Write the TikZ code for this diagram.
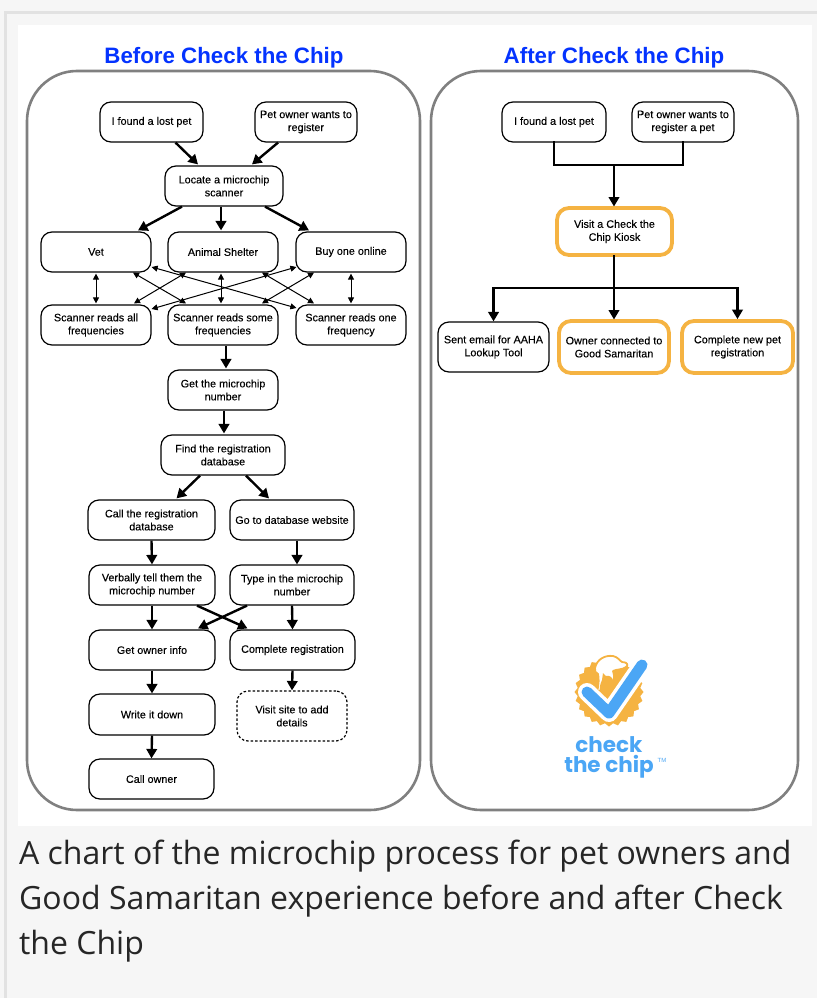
\documentclass[tikz,border=0pt]{standalone}
\usepackage{fontspec}
\setmainfont{Liberation Sans}
\newfontfamily\nodefont[FakeBold=0.12]{Liberation Sans}
\newfontfamily\capfont{Open Sans}
\newfontfamily\logofont{Poppins}
\usetikzlibrary{arrows.meta,calc}
\definecolor{pagebg}{HTML}{F6F6F6}
\definecolor{pageline}{HTML}{E2E2E2}
\definecolor{panelline}{HTML}{808080}
\definecolor{titleblue}{HTML}{0433FF}
\definecolor{kiosk}{HTML}{F5B342}
\definecolor{logoblue}{HTML}{4BA6F5}
\tikzset{
  x=1pt,y=-1pt,
  panel/.style={draw=panelline,line width=2.6pt,rounded corners=50pt,fill=white},
  box/.style={draw=black,line width=1.2pt,rounded corners=11pt,align=center,inner sep=0pt,
    font=\nodefont\fontsize{10.8}{13}\selectfont,text=black},
  hl/.style={box,draw=kiosk,line width=3.8pt,rounded corners=12pt},
  dash box/.style={box,dash pattern=on 2.5pt off 2pt},
  heavy/.style={line width=2.4pt,-{Triangle[length=9.5pt,width=10.5pt]}},
  thin both/.style={line width=1pt,{Triangle[length=6pt,width=6pt]}-{Triangle[length=6pt,width=6pt]}},
  plainheavy/.style={line width=2.4pt},
  headline/.style={font=\fontsize{22.3}{26}\selectfont\bfseries,text=titleblue},
  caption/.style={font=\capfont\fontsize{32}{45}\selectfont,text=black!85,anchor=west},
  logotext/.style={font=\logofont\bfseries\fontsize{21.5}{22}\selectfont,text=logoblue,inner sep=0pt,anchor=base}
}
\newcommand{\bx}[7][box]{\node[#1,minimum width=#5pt-#3pt,minimum height=#6pt-#4pt] (#2) at ({(#3+#5)/2},{(#4+#6)/2}) {#7};}
\begin{document}
\begin{tikzpicture}
\useasboundingbox (0,0) rectangle (817,998);
\fill[pagebg] (0,0) rectangle (817,998);
\fill[pageline] (4,11) rectangle (817,14);
\fill[pageline] (4,11) rectangle (7,998);
\fill[white] (18,25) rectangle (812,826);
\draw[panel] (27,71) rectangle (420,810);
\draw[panel] (431,71) rectangle (798,810);
\node[headline] (t1) at (224,58) {Before Check the Chip};
\node[headline] (t2) at (614,58) {After Check the Chip};
% left nodes
\bx{lfound}{100}{102}{203}{142}{I found a lost pet}
\bx{lowner}{255}{102}{357}{142}{Pet owner wants to\\register}
\bx{locate}{165}{166}{283}{206}{Locate a microchip\\scanner}
\bx{vet}{41}{232}{151}{272}{Vet}
\bx{shelter}{168}{232}{278}{272}{Animal Shelter}
\bx{buy}{296}{232}{406}{272}{Buy one online}
\bx{all}{41}{305}{151}{345}{Scanner reads all\\frequencies}
\bx{some}{168}{305}{278}{345}{Scanner reads some\\frequencies}
\bx{one}{296}{305}{406}{345}{Scanner reads one\\frequency}
\bx{number}{168}{370}{278}{410}{Get the microchip\\number}
\bx{find}{161}{435}{285}{475}{Find the registration\\database}
\bx{calldb}{88}{500}{215}{540}{Call the registration\\database}
\bx{goto}{230}{500}{354}{540}{Go to database website}
\bx{verb}{89}{565}{215}{605}{Verbally tell them the\\microchip number}
\bx{type}{230}{565}{354}{605}{Type in the microchip\\number}
\bx{info}{89}{630}{215}{670}{Get owner info}
\bx{compl}{230}{630}{355}{670}{Complete registration}
\bx{write}{89}{694}{215}{735}{Write it down}
\bx{callo}{89}{759}{214}{799}{Call owner}
\bx[dash box]{visit}{237}{691}{347}{741}{Visit site to add\\details}
% right nodes
\bx{rfound}{502}{102}{606}{142}{I found a lost pet}
\bx{rowner}{632}{102}{734}{142}{Pet owner wants to\\register a pet}
\bx[hl]{chipkiosk}{557}{208}{672}{255}{Visit a Check the\\Chip Kiosk}
\bx{sent}{438}{322}{549}{372}{Sent email for AAHA\\Lookup Tool}
\bx[hl]{conn}{559}{321}{669}{373}{Owner connected to\\Good Samaritan}
\bx[hl]{newreg}{682}{321}{793}{373}{Complete new pet\\registration}
% left connectors
\draw[heavy] ($(lfound.south)+(24,0)$) -- ($(locate.north)+(-26,-1)$);
\draw[heavy] ($(lowner.south)+(-28,0)$) -- ($(locate.north)+(28,-1)$);
\draw[heavy] ($(locate.south)+(-42,0)$) -- ($(vet.north)+(42,-1)$);
\draw[heavy] ($(locate.south)+(-3,0)$) -- ($(shelter.north)+(-2,-1)$);
\draw[heavy] ($(locate.south)+(41,0)$) -- ($(buy.north)+(-42,-1)$);
\draw[thin both] ($(vet.south)+(0,1)$) -- ($(all.north)+(0,-1)$);
\draw[thin both] ($(shelter.south)+(-2,1)$) -- ($(some.north)+(-2,-1)$);
\draw[thin both] ($(buy.south)+(0,1)$) -- ($(one.north)+(0,-1)$);
\draw[thin both] ($(vet.south)+(37,0)$) -- ($(some.north)+(-37,-1)$);
\draw[thin both] ($(shelter.south)+(-37,0)$) -- ($(all.north)+(38,-1)$);
\draw[thin both] ($(vet.east)+(0,15)$) -- ($(one.west)+(1,-17)$);
\draw[thin both] ($(buy.west)+(1,15)$) -- ($(all.east)+(0,-16)$);
\draw[thin both] ($(shelter.south)+(39,0)$) -- ($(one.north)+(-37,-1)$);
\draw[thin both] ($(buy.south)+(-37,0)$) -- ($(some.north)+(39,-1)$);
\draw[heavy] ($(some.south)+(3,0)$) -- ($(number.north)+(3,-1)$);
\draw[heavy] ($(number.south)+(1,0)$) -- ($(find.north)+(1,-1)$);
\draw[heavy] ($(find.south)+(-23,0)$) -- ($(calldb.north)+(25,-1)$);
\draw[heavy] ($(find.south)+(23,0)$) -- ($(goto.north)+(-23,-1)$);
\draw[heavy] (calldb.south) -- (verb.north);
\draw[heavy] ($(goto.south)+(5,0)$) -- ($(type.north)+(5,0)$);
\draw[heavy] (verb.south) -- (info.north);
\draw[heavy] (type.south) -- (compl.north);
\draw[heavy] ($(verb.south)+(45,0)$) -- ($(compl.north)+(-45,-1)$);
\draw[heavy] ($(type.south)+(-45,0)$) -- ($(info.north)+(46,-1)$);
\draw[heavy] (info.south) -- (write.north);
\draw[heavy] (write.south) -- (callo.north);
\draw[heavy] (compl.south) -- (visit.north);
% right connectors
\coordinate (rjoin) at (614,165);
\draw[plainheavy,line cap=rect] (rfound.south) |- (rjoin) -| (rowner.south);
\draw[heavy] (rjoin) -- (614,206.5);
\coordinate (rsplit) at (614,288);
\draw[heavy] (614,255) -- (614,319.5);
\draw[heavy] (rsplit) -| (sent.north);
\draw[heavy] (rsplit) -| (newreg.north);
% logo
\begin{scope}[shift={(609,692)}]
  \fill[kiosk] plot[smooth cycle,samples=48,domain=0:352.5,variable=\t] ({\t}:{32.5+(mod(round(\t/7.5),2)==0?2:-1)});
  \filldraw[fill=white,draw=kiosk,line width=1.8pt,line join=round]
     (-14,-24) .. controls (-12,-33) and (-4,-37) .. (4,-36)
     .. controls (9,-35) and (11,-31) .. (13,-30)
     .. controls (18,-30) and (20,-27) .. (17,-25)
     .. controls (13,-22) and (8,-23) .. (4,-21)
     .. controls (6,-16) and (5,-10) .. (2,-6) -- (-12,0)
     .. controls (-10,-8) and (-10,-14) .. (-11,-18)
     .. controls (-13,-19) and (-15,-21) .. (-14,-24) -- cycle;
  \fill[kiosk] (-6,-19) -- (-3,-16) .. controls (0,-17) and (3,-15) .. (4,-12)
     -- (7,-9) -- (4,-5) -- (3,1) -- (-9,3)
     .. controls (-10,-3) and (-9,-8) .. (-7,-12) -- cycle;
  \draw[white,line width=18pt,line cap=round,line join=round] (-22,0) -- (0,21) -- (33,-27);
  \draw[logoblue,line width=11pt,line cap=round,line join=round] (-22,0) -- (0,21) -- (33,-27);
\end{scope}
\node[logotext] (lg1) at (609,752) {check};
\node[logotext] (lg2) at (609,772) {the chip};
\node[font=\fontsize{6}{6}\selectfont,text=logoblue,inner sep=0pt] (lg3) at (662,760) {TM};
% caption
\node[caption,inner sep=0pt] (c1) at (19,856) {A chart of the microchip process for pet owners and};
\node[caption,inner sep=0pt] (c2) at (19,901) {Good Samaritan experience before and after Check};
\node[caption,inner sep=0pt] (c3) at (19,946) {the Chip};
\end{tikzpicture}
\end{document}
